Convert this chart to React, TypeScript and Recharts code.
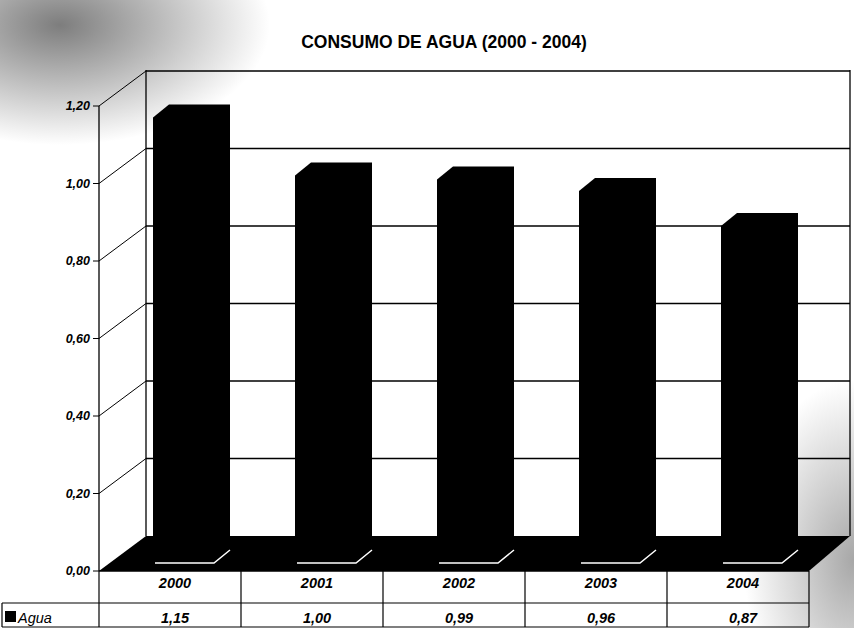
import { Bar, BarChart, CartesianGrid, XAxis, YAxis } from "recharts";

const years = ["2000", "2001", "2002", "2003", "2004"];
const agua = [1.15, 1.0, 0.99, 0.96, 0.87];
const yTicks = [0, 0.2, 0.4, 0.6, 0.8, 1.0, 1.2];

const data = years.map((year, i) => ({ year, agua: agua[i] }));

const W = 854;
const H = 628;
const TABLE_H = 57;
const FLOOR_Y = H - TABLE_H;
// depth of the back wall, and where the bars sit inside it
const WALL_DX = 47;
const WALL_DY = 35;
const BAR_OX = 13;
const BAR_OY = -8;
const BOX_DX = 16;
const BOX_DY = 13;
const WALL_RIGHT = 850;

const fmt = (v: number) => v.toFixed(2).replace(".", ",");

function gridLine(p: any) {
  const { x1, y1, x2 } = p;
  const key = `g-${p.index}-${y1}`;
  if (Math.abs(y1 - FLOOR_Y) < 1) {
    return (
      <g key={key}>
        <polygon
          points={`${x1},${y1} ${x1 + WALL_DX},${y1 - WALL_DY} ${WALL_RIGHT},${y1 - WALL_DY} ${x2},${y1}`}
          fill="#000"
        />
        <line x1={x1 + WALL_DX} y1={y1 - WALL_DY} x2={x1 + WALL_DX} y2={70} stroke="#000" strokeWidth={1.3} />
        <line x1={WALL_RIGHT} y1={y1 - WALL_DY} x2={WALL_RIGHT} y2={70} stroke="#000" strokeWidth={1.3} />
      </g>
    );
  }
  return (
    <g key={key}>
      <line x1={x1} y1={y1} x2={x1 + WALL_DX} y2={y1 - WALL_DY} stroke="#000" strokeWidth={1} />
      <line x1={x1 + WALL_DX} y1={y1 - WALL_DY} x2={WALL_RIGHT} y2={y1 - WALL_DY} stroke="#000" strokeWidth={1.3} />
    </g>
  );
}

function Box3D(p: any) {
  const { x, y, width: w, height: h } = p;
  const fx = x + BAR_OX;
  const fy = y + BAR_OY;
  const pts = [
    [fx, fy + h],
    [fx, fy],
    [fx + BOX_DX, fy - BOX_DY],
    [fx + w + BOX_DX, fy - BOX_DY],
    [fx + w + BOX_DX, fy + h - BOX_DY],
    [fx + w, fy + h],
  ]
    .map((q) => q.join(","))
    .join(" ");
  return (
    <g>
      <polygon points={pts} fill="#000" />
      <polyline
        points={`${fx + 2},${fy + h} ${fx + w},${fy + h} ${fx + w + BOX_DX},${fy + h - BOX_DY}`}
        fill="none"
        stroke="#fff"
        strokeWidth={1.5}
      />
    </g>
  );
}

function TableTick(p: any) {
  const { x, y, payload, index } = p;
  const count = p.visibleTicksCount || years.length;
  const band = p.width ? p.width / count : 142;
  const half = band / 2;
  const left = x - half;
  const rowY = y + 32;
  const botY = y + 56;
  const textStyle = {
    fontFamily: "Liberation Sans, Arial, sans-serif",
    fontStyle: "italic" as const,
    fontWeight: "bold" as const,
    fontSize: 14.5,
  };
  return (
    <g>
      <line x1={left} y1={y} x2={left} y2={botY} stroke="#000" strokeWidth={1.2} />
      {index === count - 1 && (
        <line x1={x + half} y1={y} x2={x + half} y2={botY} stroke="#000" strokeWidth={1.2} />
      )}
      <line x1={left} y1={rowY} x2={x + half} y2={rowY} stroke="#000" strokeWidth={1.2} />
      <line x1={left} y1={botY} x2={x + half} y2={botY} stroke="#000" strokeWidth={1.2} />
      <text x={x + 5} y={y + 17} textAnchor="middle" fill="#000" style={textStyle}>
        {payload.value}
      </text>
      <text x={x + 5} y={y + 52} textAnchor="middle" fill="#000" style={textStyle}>
        {fmt(agua[index])}
      </text>
      {index === 0 && (
        <g>
          <line x1={2} y1={rowY} x2={left} y2={rowY} stroke="#000" strokeWidth={1.2} />
          <line x1={2} y1={botY} x2={left} y2={botY} stroke="#000" strokeWidth={1.2} />
          <line x1={2} y1={rowY} x2={2} y2={botY} stroke="#000" strokeWidth={1.2} />
          <rect x={5} y={y + 40} width={11} height={11} fill="#000" />
          <text x={18} y={y + 52} fill="#000" style={{ ...textStyle, fontWeight: "normal" }}>
            Agua
          </text>
        </g>
      )}
    </g>
  );
}

export default function App() {
  return (
    <div
      style={{
        position: "fixed",
        left: 0,
        top: 0,
        width: W,
        height: H,
        background:
          "radial-gradient(ellipse 210px 120px at 60px 25px, rgba(70,70,70,0.7), rgba(255,255,255,0) 100%), radial-gradient(ellipse 110px 180px at 854px 560px, rgba(80,80,80,0.5), rgba(255,255,255,0) 100%), #fff",
        fontFamily: "Liberation Sans, Arial, sans-serif",
      }}
    >
      <div
        style={{
          position: "absolute",
          left: 0,
          top: 32,
          width: 888,
          textAlign: "center",
          fontSize: 17.5,
          fontWeight: "bold",
          lineHeight: "20px",
        }}
      >
        CONSUMO DE AGUA (2000 - 2004)
      </div>
      <BarChart
        width={W}
        height={H}
        data={data}
        margin={{ top: 106, right: 45, bottom: 0, left: 8 }}
        style={{ position: "absolute", left: 0, top: 0 }}
      >
        <CartesianGrid horizontal={gridLine} vertical={false} />
        <XAxis
          dataKey="year"
          height={TABLE_H}
          axisLine={{ stroke: "#000", strokeWidth: 1.3 }}
          tickLine={false}
          tickSize={0}
          tickMargin={0}
          tick={<TableTick />}
          interval={0}
        />
        <YAxis
          width={91}
          domain={[0, 1.2]}
          ticks={yTicks}
          interval={0}
          tickFormatter={fmt}
          axisLine={{ stroke: "#000", strokeWidth: 1.3 }}
          tickLine={{ stroke: "#000" }}
          tickSize={6}
          tickMargin={3}
          tick={{ fill: "#000", fontSize: 12.5, fontStyle: "italic", fontWeight: "bold" }}
        />
        <Bar dataKey="agua" barSize={61} shape={<Box3D />} isAnimationActive={false} />
      </BarChart>
    </div>
  );
}
